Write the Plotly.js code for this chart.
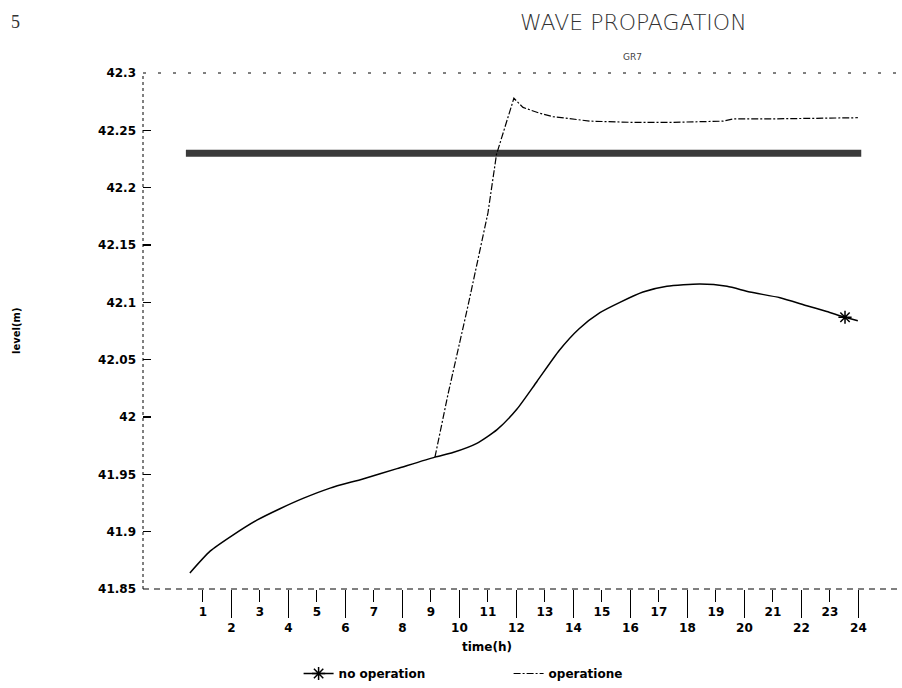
<!DOCTYPE html>
<html>
<head>
<meta charset="utf-8">
<script src="https://cdn.plot.ly/plotly-3.0.1.min.js"></script>
<style>html,body{margin:0;padding:0;background:#fff;}#chart{width:902px;height:688px;}</style>
</head>
<body>
<div id="chart"></div>
<script>
// ---- data ----
const timeNoOp = [0.54, 1.25, 2.05, 2.89, 3.70, 4.51, 5.46, 6.61, 7.81, 9.14, 9.77, 10.61, 11.32, 12.02, 12.72, 13.5, 14.2, 14.93, 15.63, 16.44, 17.28, 18.44, 19.39, 20.19, 21.25, 22.19, 22.89, 23.53, 23.98];
const levelNoOp = [41.864, 41.883, 41.897, 41.910, 41.920, 41.929, 41.938, 41.946, 41.955, 41.965, 41.969, 41.977, 41.989, 42.007, 42.031, 42.058, 42.077, 42.091, 42.100, 42.109, 42.114, 42.116, 42.114, 42.109, 42.104, 42.097, 42.092, 42.087, 42.084];
const starIndex = 27; // the one asterisk marker drawn on the "no operation" curve

const timeOp = [9.14, 9.6, 10.3, 11.0, 11.3, 11.91, 12.23, 12.8, 13.28, 13.88, 14.58, 16.0, 17.5, 19.25, 19.6, 21.0, 23.98];
const levelOp = [41.965, 42.02, 42.097, 42.178, 42.229, 42.278, 42.270, 42.265, 42.262, 42.260, 42.258, 42.257, 42.257, 42.258, 42.260, 42.260, 42.261];

const timeRef = [0.4, 24.1];
const levelRef = [42.23, 42.23];

const oddTicks = [1,3,5,7,9,11,13,15,17,19,21,23];
const evenTicks = [2,4,6,8,10,12,14,16,18,20,22,24];
const yTickVals = [41.85, 41.9, 41.95, 42, 42.05, 42.1, 42.15, 42.2, 42.25, 42.3];
const yTickText = ['41.85','41.9','41.95','42','42.05','42.1','42.15','42.2','42.25','42.3'];

const xRange = [-1.105, 25.53];
const tickFont = {family: 'DejaVu Sans', size: 12, color: '#000', weight: 'bold'};
const noOpLine = {color: '#000', width: 1.5, shape: 'spline', smoothing: 0.6};
const starMarker = {symbol: 'asterisk-open', size: 11, color: '#000', line: {color: '#000', width: 1.5}};

const traces = [
  {x: timeRef, y: levelRef, mode: 'lines', line: {color: '#3a3a3a', width: 7}, showlegend: false, hoverinfo: 'skip'},
  {x: timeRef, y: levelRef, xaxis: 'x2', mode: 'lines', line: {color: 'rgba(0,0,0,0)', width: 0}, showlegend: false, hoverinfo: 'skip'},
  {x: timeNoOp, y: levelNoOp, mode: 'lines', name: 'no operation', legendgroup: 'noop', showlegend: false,
   line: noOpLine},
  {x: [timeNoOp[starIndex]], y: [levelNoOp[starIndex]], mode: 'lines+markers', name: 'no operation', legendgroup: 'noop',
   line: noOpLine, marker: starMarker},
  {x: timeOp, y: levelOp, mode: 'lines', name: 'operatione',
   line: {color: '#000', width: 1.2, dash: '7px,2px,2px,2px'}}
];

const layout = {
  width: 902, height: 688,
  margin: {l: 143, r: 0, t: 73, b: 98},
  paper_bgcolor: '#fff', plot_bgcolor: '#fff',
  showlegend: true,
  legend: {orientation: 'h', x: 0.205, xanchor: 'left', y: -0.164, yanchor: 'middle',
           font: {family: 'DejaVu Sans', size: 12, color: '#000', weight: 'bold'},
           entrywidth: 165, bgcolor: 'rgba(0,0,0,0)'},
  xaxis: {range: xRange, tickmode: 'array', tickvals: oddTicks, ticktext: oddTicks.map(String),
          ticks: 'outside', ticklen: 12, tickwidth: 1, tickcolor: '#000',
          showgrid: false, zeroline: false, showline: false, automargin: false, tickfont: tickFont},
  xaxis2: {range: xRange, overlaying: 'x', anchor: 'y', side: 'bottom', tickmode: 'array',
           tickvals: evenTicks, ticktext: evenTicks.map(String),
           ticks: 'outside', ticklen: 28, tickwidth: 1, tickcolor: '#000',
           showgrid: false, zeroline: false, showline: false, automargin: false, tickfont: tickFont},
  yaxis: {range: [41.85, 42.3], tickmode: 'array', tickvals: yTickVals, ticktext: yTickText,
          ticks: 'inside', ticklen: 8, tickwidth: 1.2, tickcolor: '#000', ticklabelstandoff: 6,
          showgrid: false, zeroline: false, showline: false, automargin: false, tickfont: tickFont},
  shapes: [
    {type: 'line', xref: 'paper', yref: 'paper', x0: 0, x1: 0, y0: 0, y1: 1, line: {color: '#000', width: 1, dash: 'dot'}},
    {type: 'line', xref: 'paper', yref: 'paper', x0: 0, x1: 1, y0: 1, y1: 1, line: {color: '#000', width: 1, dash: '3px,12px'}},
    {type: 'line', xref: 'paper', yref: 'paper', x0: 0, x1: 1, y0: 0, y1: 0, line: {color: '#000', width: 1, dash: '6px,5px'}}
  ],
  annotations: [
    {text: 'WAVE PROPAGATION', xref: 'paper', yref: 'paper', x: (633-143)/759, y: 1 + (73-22)/517,
     xanchor: 'center', yanchor: 'middle', showarrow: false,
     font: {family: 'DejaVu Sans', size: 22, color: '#333', weight: 200}},
    {text: 'GR7', xref: 'paper', yref: 'paper', x: (632-143)/759, y: 1 + (73-57)/517,
     xanchor: 'center', yanchor: 'middle', showarrow: false,
     font: {family: 'DejaVu Sans', size: 9, color: '#444'}},
    {text: '5', xref: 'paper', yref: 'paper', x: (15-143)/759, y: 1 + (73-22)/517,
     xanchor: 'center', yanchor: 'middle', showarrow: false,
     font: {family: 'Liberation Serif', size: 18, color: '#333'}},
    {text: 'time(h)', xref: 'paper', yref: 'paper', x: (487-143)/759, y: (590-648)/517,
     xanchor: 'center', yanchor: 'middle', showarrow: false,
     font: {family: 'DejaVu Sans', size: 12, color: '#000', weight: 'bold'}},
    {text: 'level(m)', xref: 'paper', yref: 'paper', x: (16-143)/759, y: 0.5, textangle: -90,
     xanchor: 'center', yanchor: 'middle', showarrow: false,
     font: {family: 'DejaVu Sans', size: 10, color: '#000', weight: 'bold'}}
  ]
};

Plotly.newPlot('chart', traces, layout, {displayModeBar: false, staticPlot: true});
</script>
</body>
</html>
